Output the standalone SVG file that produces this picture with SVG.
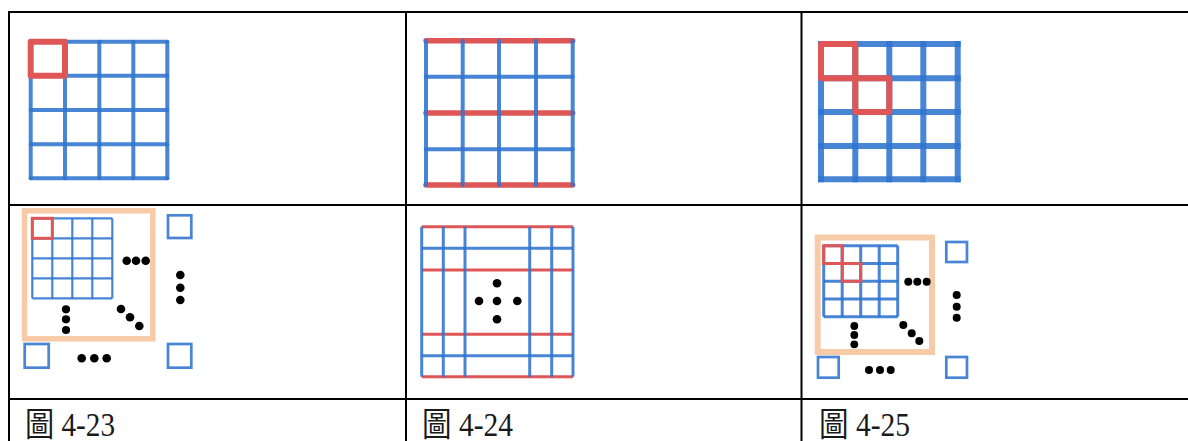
<svg xmlns="http://www.w3.org/2000/svg" width="1188" height="441" viewBox="0 0 1188 441">
<style>
.tbl{stroke:#000;stroke-width:2;fill:none}
.b{stroke:#2f74cf;stroke-opacity:0.88;fill:none}
.r{stroke:#df5656;fill:none}
.o{stroke:#f8cba8;fill:none}
.d{fill:#000}
.cap{font-family:"Liberation Serif","Noto Sans CJK TC",serif;font-size:33px;fill:#1a1a1a}
</style>
<rect width="1188" height="441" fill="#fff"/>
<g id="table" class="tbl">
<line x1="8" y1="12" x2="1188" y2="12"/>
<line x1="8" y1="205" x2="1188" y2="205"/>
<line x1="8" y1="399" x2="1188" y2="399"/>
<line x1="9" y1="11" x2="9" y2="441"/>
<line x1="406" y1="11" x2="406" y2="441"/>
<line x1="801.5" y1="11" x2="801.5" y2="441"/>
</g>
<g id="fig-top-1">
<g class="b" stroke-width="4" stroke-linecap="round">
<line x1="30.7" y1="41.7" x2="167.3" y2="41.7"/>
<line x1="30.7" y1="75.7" x2="167.3" y2="75.7"/>
<line x1="30.7" y1="110" x2="167.3" y2="110"/>
<line x1="30.7" y1="144.3" x2="167.3" y2="144.3"/>
<line x1="30.7" y1="178.3" x2="167.3" y2="178.3"/>
<line x1="30.7" y1="41.7" x2="30.7" y2="178.3"/>
<line x1="65" y1="41.7" x2="65" y2="178.3"/>
<line x1="99.3" y1="41.7" x2="99.3" y2="178.3"/>
<line x1="133.3" y1="41.7" x2="133.3" y2="178.3"/>
<line x1="167.3" y1="41.7" x2="167.3" y2="178.3"/>
</g>
<rect class="r" x="30.7" y="41.7" width="34.3" height="34" stroke-width="6" stroke-linejoin="round"/>
</g>
<g id="fig-top-2">
<g class="b" stroke-width="4" stroke-linecap="round">
<line x1="426" y1="76.7" x2="572.7" y2="76.7"/>
<line x1="426" y1="149.3" x2="572.7" y2="149.3"/>
</g>
<g class="r" stroke-width="5.5" stroke-linecap="round">
<line x1="426" y1="40.7" x2="572.7" y2="40.7"/>
<line x1="426" y1="113" x2="572.7" y2="113"/>
<line x1="426" y1="185" x2="572.7" y2="185"/>
</g>
<g class="b" stroke-width="4" stroke-linecap="round">
<line x1="426" y1="40.7" x2="426" y2="185"/>
<line x1="462.7" y1="40.7" x2="462.7" y2="185"/>
<line x1="499" y1="40.7" x2="499" y2="185"/>
<line x1="536" y1="40.7" x2="536" y2="185"/>
<line x1="572.7" y1="40.7" x2="572.7" y2="185"/>
</g>
</g>
<g id="fig-top-3">
<g class="b" stroke-width="6" stroke-linecap="square">
<line x1="821" y1="44" x2="957.7" y2="44"/>
<line x1="821" y1="78.3" x2="957.7" y2="78.3"/>
<line x1="821" y1="112" x2="957.7" y2="112"/>
<line x1="821" y1="146" x2="957.7" y2="146"/>
<line x1="821" y1="179.3" x2="957.7" y2="179.3"/>
<line x1="821" y1="44" x2="821" y2="179.3"/>
<line x1="855.3" y1="44" x2="855.3" y2="179.3"/>
<line x1="889.3" y1="44" x2="889.3" y2="179.3"/>
<line x1="923.3" y1="44" x2="923.3" y2="179.3"/>
<line x1="957.7" y1="44" x2="957.7" y2="179.3"/>
</g>
<path class="r" stroke-width="6" stroke-linejoin="round" d="M821,44 H855.3 V112 H889.3 V78.3 H821 Z"/>
</g>
<g id="fig-bottom-1">
<rect class="o" x="24.5" y="210.8" width="128.3" height="128" stroke-width="5.5"/>
<g class="b" stroke-width="2.2">
<line x1="32.3" y1="218.3" x2="112.3" y2="218.3"/>
<line x1="32.3" y1="238.3" x2="112.3" y2="238.3"/>
<line x1="32.3" y1="258.3" x2="112.3" y2="258.3"/>
<line x1="32.3" y1="278.3" x2="112.3" y2="278.3"/>
<line x1="32.3" y1="298.3" x2="112.3" y2="298.3"/>
<line x1="32.3" y1="218.3" x2="32.3" y2="298.3"/>
<line x1="52.3" y1="218.3" x2="52.3" y2="298.3"/>
<line x1="72.3" y1="218.3" x2="72.3" y2="298.3"/>
<line x1="92.3" y1="218.3" x2="92.3" y2="298.3"/>
<line x1="112.3" y1="218.3" x2="112.3" y2="298.3"/>
</g>
<rect class="r" x="32.3" y="218.3" width="20" height="20" stroke-width="3"/>
<g class="d">
<circle cx="126.7" cy="260.7" r="4.3"/><circle cx="136" cy="260.7" r="4.3"/><circle cx="145.7" cy="260.7" r="4.3"/>
<circle cx="180.3" cy="275" r="4.3"/><circle cx="180.3" cy="287.7" r="4.3"/><circle cx="180.3" cy="300" r="4.3"/>
<circle cx="66" cy="309.3" r="4.1"/><circle cx="66" cy="319.3" r="4.1"/><circle cx="66" cy="330" r="4.1"/>
<circle cx="121" cy="309" r="4.3"/><circle cx="130" cy="317.3" r="4.3"/><circle cx="139.3" cy="326" r="4.3"/>
<circle cx="81.7" cy="358.3" r="4.3"/><circle cx="94.3" cy="358.3" r="4.3"/><circle cx="106.7" cy="358.3" r="4.3"/>
</g>
<g class="b" stroke-width="2.7">
<rect x="168" y="215.3" width="23.3" height="22.7"/>
<rect x="24.7" y="344" width="24" height="23.7"/>
<rect x="168" y="344" width="23.3" height="23.7"/>
</g>
</g>
<g id="fig-bottom-2">
<g class="r" stroke-width="3">
<line x1="421.7" y1="226.7" x2="573" y2="226.7"/>
<line x1="421.7" y1="270" x2="573" y2="270"/>
<line x1="421.7" y1="334.3" x2="573" y2="334.3"/>
<line x1="421.7" y1="376.7" x2="573" y2="376.7"/>
</g>
<g class="b" stroke-width="3">
<line x1="421.7" y1="248.3" x2="573" y2="248.3"/>
<line x1="421.7" y1="355.7" x2="573" y2="355.7"/>
<line x1="421.7" y1="226.7" x2="421.7" y2="376.7"/>
<line x1="443.3" y1="226.7" x2="443.3" y2="376.7"/>
<line x1="465" y1="226.7" x2="465" y2="376.7"/>
<line x1="529.7" y1="226.7" x2="529.7" y2="376.7"/>
<line x1="551.7" y1="226.7" x2="551.7" y2="376.7"/>
<line x1="573" y1="226.7" x2="573" y2="376.7"/>
</g>
<g class="d">
<circle cx="497" cy="283.3" r="4.3"/>
<circle cx="479" cy="301" r="4.3"/><circle cx="497" cy="301" r="4.3"/><circle cx="517.3" cy="301" r="4.3"/>
<circle cx="497" cy="319.3" r="4.3"/>
</g>
</g>
<g id="fig-bottom-3">
<rect class="o" x="817.7" y="237.5" width="114.3" height="114.5" stroke-width="6"/>
<g class="b" stroke-width="3">
<line x1="823.7" y1="245.7" x2="897.7" y2="245.7"/>
<line x1="823.7" y1="263.5" x2="897.7" y2="263.5"/>
<line x1="823.7" y1="281.2" x2="897.7" y2="281.2"/>
<line x1="823.7" y1="299" x2="897.7" y2="299"/>
<line x1="823.7" y1="316.7" x2="897.7" y2="316.7"/>
<line x1="823.7" y1="245.7" x2="823.7" y2="316.7"/>
<line x1="842.2" y1="245.7" x2="842.2" y2="316.7"/>
<line x1="860.7" y1="245.7" x2="860.7" y2="316.7"/>
<line x1="879.2" y1="245.7" x2="879.2" y2="316.7"/>
<line x1="897.7" y1="245.7" x2="897.7" y2="316.7"/>
</g>
<path class="r" stroke-width="3" d="M823.7,245.7 H842.2 V281.2 H860.7 V263.5 H823.7 Z"/>
<g class="d">
<circle cx="908.3" cy="281.7" r="4"/><circle cx="917.3" cy="281.7" r="4"/><circle cx="926.7" cy="281.7" r="4"/>
<circle cx="956.7" cy="295" r="4"/><circle cx="956.7" cy="306.7" r="4"/><circle cx="956.7" cy="317.7" r="4"/>
<circle cx="854.3" cy="326" r="3.9"/><circle cx="854.3" cy="335" r="3.9"/><circle cx="854.3" cy="344.3" r="3.9"/>
<circle cx="903.3" cy="325" r="4"/><circle cx="911.7" cy="333.3" r="4"/><circle cx="919.3" cy="341" r="4"/>
<circle cx="869" cy="370" r="4"/><circle cx="880" cy="370" r="4"/><circle cx="890.7" cy="370" r="4"/>
</g>
<g class="b" stroke-width="2.7">
<rect x="946.3" y="242" width="20.7" height="20"/>
<rect x="818" y="357" width="20.7" height="20.7"/>
<rect x="946.3" y="357" width="20.7" height="20.7"/>
</g>
</g>
<g id="captions">
<text class="cap" x="25" y="436" textLength="90" lengthAdjust="spacingAndGlyphs">圖 4-23</text>
<text class="cap" x="422" y="436" textLength="91" lengthAdjust="spacingAndGlyphs">圖 4-24</text>
<text class="cap" x="819" y="436" textLength="91" lengthAdjust="spacingAndGlyphs">圖 4-25</text>
</g>
</svg>
